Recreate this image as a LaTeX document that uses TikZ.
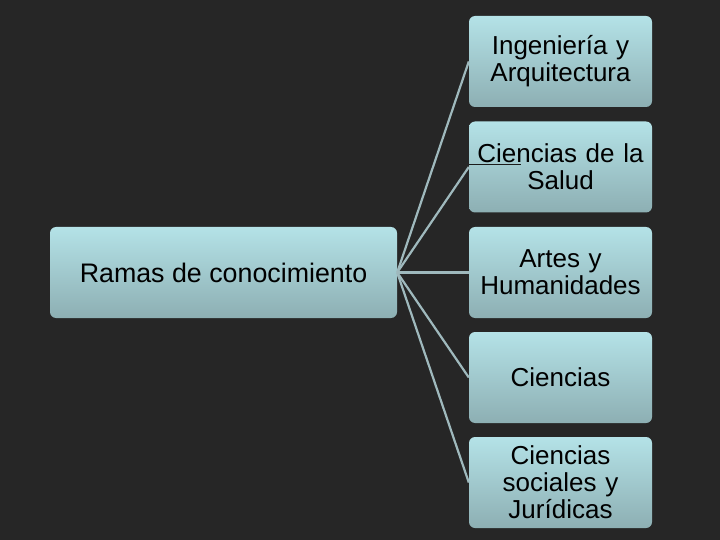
\documentclass[tikz,border=0pt]{standalone}
\usepackage{fontspec}
\setsansfont{Liberation Sans}
\usetikzlibrary{positioning}

\definecolor{slide}{HTML}{262626}
\definecolor{boxtop}{HTML}{B4E2E7}
\definecolor{boxbot}{HTML}{8DAFB3}
\definecolor{link}{HTML}{9FB9BD}

\begin{document}
\begin{tikzpicture}[
    x=1pt, y=-1pt,
    font=\sffamily\fontsize{26}{27}\selectfont,
    every node/.style={align=center},
    box/.style={rounded corners=6pt, inner sep=0pt, minimum height=91pt, top color=boxtop, bottom color=boxbot, text=black},
    root/.style={box, minimum width=347pt, font=\sffamily\fontsize{26.8}{28}\selectfont},
    branch/.style={box, minimum width=183pt, text width=180pt},
    link/.style={draw=link, line width=2.2pt},
]

% --- background ---
\fill[slide] (0,0) rectangle (720,540);
\useasboundingbox (0,0) rectangle (720,540);

% --- root and branches ---
\node[root]   (ramas) at (223.5,272.5) {Ramas de conocimiento};
\node[branch] (ing)   at (560.5,61.5)  {Ingeniería y\\Arquitectura};
\node[branch] (salud) at (560.5,167)   {Ciencias de la\\Salud};
\node[branch] (artes) at (560.5,272.5) {Artes y\\Humanidades};
\node[branch] (cien)  at (560.5,377.5) {Ciencias};
\node[branch] (soc)   at (560.5,482.5) {Ciencias\\sociales y\\Jurídicas};

% --- connectors ---
\foreach \b in {ing,salud,artes,cien,soc}
  \draw[link] (ramas.east) -- (\b.west);

% --- stray stub on the second branch ---
\coordinate (stub) at (520.5,165);
\draw[slide!70!black, line width=1pt] (salud.west |- stub) -- (stub);

\end{tikzpicture}
\end{document}
